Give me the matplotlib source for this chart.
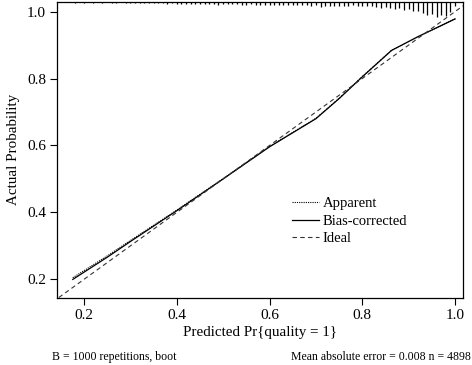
import numpy as np
import matplotlib
matplotlib.use('Agg')
from matplotlib import pyplot as plt

# calibration curves (predicted vs actual)
apparent_x = [0.176, 0.25, 0.30, 0.40, 0.50, 0.55, 0.60, 0.65, 0.70, 0.75, 0.80, 0.863, 0.92, 1.0]
apparent_y = [0.205, 0.270, 0.316, 0.407, 0.501, 0.549, 0.597, 0.639, 0.681, 0.741, 0.806, 0.884, 0.925, 0.978]
bias_x = [0.176, 0.25, 0.30, 0.40, 0.50, 0.55, 0.60, 0.65, 0.70, 0.75, 0.80, 0.863, 0.92, 1.0]
bias_y = [0.200, 0.266, 0.313, 0.405, 0.500, 0.548, 0.596, 0.638, 0.680, 0.740, 0.805, 0.884, 0.925, 0.978]

# distribution of predicted values (spike histogram at the top)
spike_x = [0.17, 0.18, 0.19, 0.20, 0.21, 0.22, 0.23, 0.24, 0.25, 0.26, 0.27, 0.28, 0.29,
           0.30, 0.31, 0.32, 0.33, 0.34, 0.35, 0.36, 0.37, 0.38, 0.39, 0.40, 0.41, 0.42,
           0.43, 0.44, 0.45, 0.46, 0.47, 0.48, 0.49, 0.50, 0.51, 0.52, 0.53, 0.54, 0.55,
           0.56, 0.57, 0.58, 0.59, 0.60, 0.61, 0.62, 0.63, 0.64, 0.65, 0.66, 0.67, 0.68,
           0.69, 0.70, 0.71, 0.72, 0.73, 0.74, 0.75, 0.76, 0.77, 0.78, 0.79, 0.80, 0.81,
           0.82, 0.83, 0.84, 0.85, 0.86, 0.87, 0.88, 0.89, 0.90, 0.91, 0.92, 0.93, 0.94,
           0.95, 0.96, 0.97, 0.98, 0.99, 1.00]
spike_n = [0.5, 1, 0.8, 1, 0, 1, 0.8, 1, 0, 1, 1, 0.8, 1,
           1.2, 1, 1.2, 1, 1.5, 1.5, 1.8, 1.5, 2, 1.8, 2, 2, 2.2,
           2, 2.5, 2, 2.5, 2.2, 2.5, 3.5, 2.5, 2.5, 2.8, 2.5, 3, 3,
           2.8, 3, 3, 3.2, 3, 3.2, 3, 3.5, 3, 3.2, 3.5, 3.2, 3.5,
           4, 3.8, 5, 4, 4, 4.2, 4, 4, 4.5, 3.5, 4, 4.2, 4,
           4.5, 5, 6, 5, 6.5, 7, 6.5, 8, 7.5, 9, 9.5, 11, 13,
           12, 15, 13, 14, 10, 4]

xticks = [0.2, 0.4, 0.6, 0.8, 1.0]
yticks = [0.2, 0.4, 0.6, 0.8, 1.0]

plt.rcParams['font.family'] = ['Liberation Serif', 'DejaVu Serif']

fig = plt.figure(figsize=(4.72, 3.65), dpi=100)
ax = fig.add_axes([57 / 472, 1 - 297.5 / 365, 406 / 472, 296 / 365])

xmin, xmax = 0.142, 1.017
ymin, ymax = 0.146, 1.03
ax.set_xlim(xmin, xmax)
ax.set_ylim(ymin, ymax)

# spikes hang from the top of the box, tallest = 15 px
scale = 0.045 / max(spike_n)
ax.vlines(spike_x, [ymax - n * scale for n in spike_n], ymax, color='black', linewidth=0.9)

ax.plot(apparent_x, apparent_y, color='black', linewidth=0.8, linestyle=(0, (1, 1)), label='Apparent')
ax.plot(bias_x, bias_y, color='black', linewidth=0.9, linestyle='-', label='Bias-corrected')
ax.axline((0, 0), slope=1, color='#333333', linewidth=0.8, linestyle=(0, (4, 3)), label='Ideal')

ax.set_xticks(xticks)
ax.set_yticks(yticks)
ax.set_xticklabels(['%.1f' % v for v in xticks])
ax.set_yticklabels(['%.1f' % v for v in yticks])
ax.tick_params(direction='out', length=5, width=0.8, labelsize=11, pad=3)
for s in ax.spines.values():
    s.set_linewidth(0.9)

ax.set_xlabel('Predicted Pr{quality = 1}', fontsize=10.8, labelpad=3)
ax.set_ylabel('Actual Probability', fontsize=10.8, labelpad=5)

ax.legend(loc='upper left', bbox_to_anchor=(292 / 472, 1 - 197 / 365), bbox_transform=fig.transFigure,
          frameon=False, fontsize=10.5, handlelength=1.85, handletextpad=0.25, labelspacing=0.3,
          borderpad=0, borderaxespad=0)

fig.text(52 / 472, 1 - 357 / 365, 'B = 1000 repetitions, boot', fontsize=8.5, va='center', ha='left')
fig.text(471 / 472, 1 - 357 / 365, 'Mean absolute error = 0.008 n = 4898', fontsize=8.5, va='center', ha='right')

plt.savefig('out.png', dpi=100)
